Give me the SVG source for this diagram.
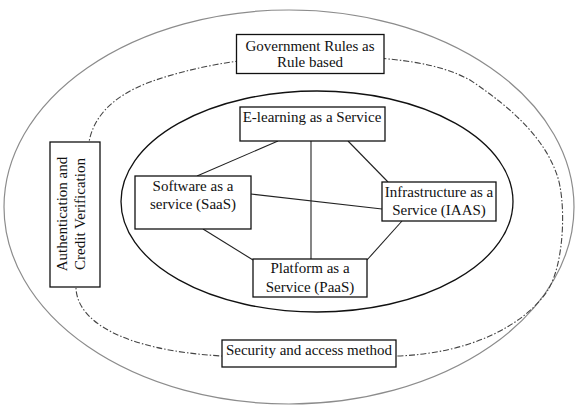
<svg xmlns="http://www.w3.org/2000/svg" width="577" height="405" viewBox="0 0 577 405">
<style>
.box{fill:#fff;stroke:#111;stroke-width:1.3}
.t{font-family:"Liberation Serif","Times New Roman",serif;font-size:15px;fill:#111;text-anchor:middle}
.ln{stroke:#222;stroke-width:1.1;fill:none}
</style>
<rect width="577" height="405" fill="#fff"/>
<g id="outer">
<ellipse cx="289" cy="207" rx="285" ry="197" fill="none" stroke="#8c8c8c" stroke-width="1.2"/>
</g>
<g id="dashdot">
<path d="M310,56 C260,56 200,64 150,82 C110,97 90,120 88,150 C86,200 76,250 76,288 C77,320 120,350 222,356 L396,356 C470,354 525,325 548,290 C565,262 566,200 557,175 C545,140 515,110 470,80 C440,64 400,56 310,56 Z" fill="none" stroke="#444" stroke-width="1.1" stroke-dasharray="6 2 1.5 2"/>
</g>
<g id="inner">
<ellipse cx="317" cy="201.5" rx="196" ry="110.5" fill="none" stroke="#111" stroke-width="1.3"/>
</g>
<g id="connectors">
<line class="ln" x1="278" y1="141" x2="197" y2="176"/>
<line class="ln" x1="311" y1="141" x2="311" y2="259"/>
<line class="ln" x1="348" y1="141" x2="388" y2="182"/>
<line class="ln" x1="251" y1="194" x2="382" y2="209"/>
<line class="ln" x1="203" y1="229" x2="253" y2="260"/>
<line class="ln" x1="402" y1="221" x2="367" y2="260"/>
</g>
<g id="government">
<rect class="box" x="236.5" y="34.5" width="147.5" height="39"/>
<text class="t" x="310" y="50.5">Government Rules as</text>
<text class="t" x="310" y="67">Rule based</text>
</g>
<g id="elearning">
<rect class="box" x="240" y="107" width="145" height="34"/>
<text class="t" x="312" y="122">E-learning as a Service</text>
</g>
<g id="auth">
<rect class="box" x="50" y="142" width="50" height="145"/>
<text class="t" transform="translate(67,214) rotate(-90)">Authentication and</text>
<text class="t" transform="translate(84.5,214) rotate(-90)">Credit Verification</text>
</g>
<g id="saas">
<rect class="box" x="135" y="176" width="116" height="53"/>
<text class="t" x="193" y="191">Software as a</text>
<text class="t" x="193" y="209">service (SaaS)</text>
</g>
<g id="iaas">
<rect class="box" x="382" y="182" width="114" height="39"/>
<text class="t" x="439" y="197">Infrastructure as a</text>
<text class="t" x="439" y="215">Service (IAAS)</text>
</g>
<g id="paas">
<rect class="box" x="253" y="259" width="114" height="38"/>
<text class="t" x="310" y="273">Platform as a</text>
<text class="t" x="310" y="292">Service (PaaS)</text>
</g>
<g id="security">
<rect class="box" x="222" y="340" width="174" height="27"/>
<text class="t" x="309" y="355">Security and access method</text>
</g>
</svg>
